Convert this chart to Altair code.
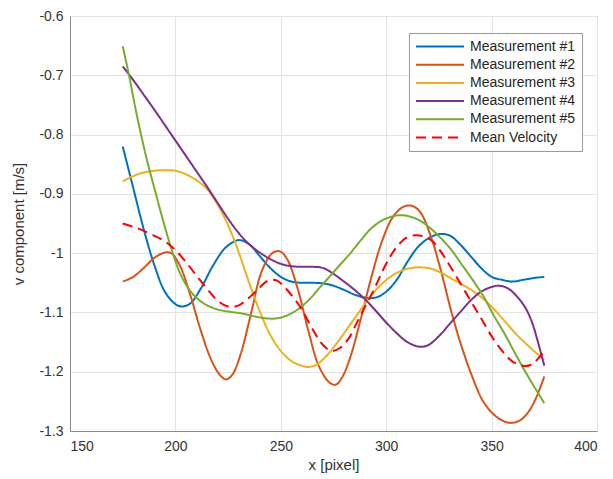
import altair as alt
import pandas as pd

series_names = ["Measurement #1", "Measurement #2", "Measurement #3",
                "Measurement #4", "Measurement #5", "Mean Velocity"]
series_colors = ["#0072BD", "#D95319", "#EDB120", "#7E2F8E", "#77AC30", "#FF0000"]

m1_x = [175, 180, 185, 190, 195, 200, 203, 207, 212, 218, 224, 230, 235, 240, 245, 250, 255, 260,
        265, 270, 275, 280, 285, 290, 295, 300, 305, 310, 315, 320, 325, 330, 335, 340, 345, 350,
        355, 360, 365, 370, 375]
m1_y = [-0.82, -0.89, -0.96, -1.02, -1.065, -1.086, -1.09, -1.085, -1.06, -1.02, -0.99, -0.978,
        -0.985, -1.005, -1.025, -1.04, -1.048, -1.05, -1.05, -1.051, -1.055, -1.062, -1.07, -1.075,
        -1.075, -1.065, -1.045, -1.015, -0.99, -0.975, -0.968, -0.97, -0.985, -1.005, -1.025, -1.04,
        -1.045, -1.048, -1.045, -1.042, -1.04]

m2_x = [175, 180, 185, 190, 195, 198, 202, 207, 212, 217, 221, 224, 227, 231, 236, 241, 246, 249.6,
        253, 258, 263, 268, 273, 276, 279, 283, 288, 293, 298, 303, 308, 312, 316, 321, 326, 331,
        336, 341, 346, 352, 358, 363, 367, 371, 375]
m2_y = [-1.048, -1.04, -1.025, -1.008, -0.999, -1.0, -1.02, -1.07, -1.13, -1.18, -1.205, -1.213,
        -1.205, -1.17, -1.10, -1.03, -1.0, -0.997, -1.01, -1.06, -1.13, -1.19, -1.218, -1.222,
        -1.21, -1.175, -1.11, -1.04, -0.98, -0.94, -0.922, -0.92, -0.93, -0.97, -1.03, -1.10,
        -1.16, -1.21, -1.25, -1.275, -1.286, -1.283, -1.27, -1.245, -1.208]

m3_x = [175, 180, 185, 190, 195, 200, 205, 210, 215, 220, 225, 230, 235, 240, 245, 250, 255, 260,
        263, 267, 272, 277, 282, 287, 292, 297, 302, 307, 312, 317, 322, 327, 332, 337, 342, 347,
        352, 357, 362, 367, 371, 375]
m3_y = [-0.879, -0.87, -0.864, -0.861, -0.86, -0.861, -0.867, -0.877, -0.892, -0.918, -0.953, -0.998,
        -1.05, -1.098, -1.138, -1.165, -1.182, -1.19, -1.192, -1.188, -1.172, -1.15, -1.125, -1.10,
        -1.075, -1.055, -1.04, -1.03, -1.025, -1.024, -1.027, -1.035, -1.045, -1.055, -1.066,
        -1.08, -1.098, -1.118, -1.138, -1.155, -1.168, -1.18]

m4_x = [175, 180, 185, 190, 195, 200, 205, 210, 215, 220, 225, 230, 235, 240, 245, 250, 255, 260,
        265, 270, 275, 280, 285, 290, 295, 300, 305, 310, 316, 320, 325, 330, 335, 340, 345, 350,
        354, 358, 362, 366, 369, 372, 375]
m4_y = [-0.685, -0.708, -0.733, -0.758, -0.784, -0.81, -0.836, -0.862, -0.888, -0.915, -0.942, -0.966,
        -0.985, -0.999, -1.01, -1.018, -1.022, -1.023, -1.023, -1.025, -1.035, -1.048, -1.062,
        -1.078, -1.097, -1.117, -1.135, -1.15, -1.158, -1.155, -1.14, -1.12, -1.10, -1.08, -1.065,
        -1.057, -1.055, -1.06, -1.073, -1.092, -1.115, -1.15, -1.19]

m5_x = [175, 178, 181, 184, 187, 190, 193, 196, 199, 202, 205, 209, 214, 220, 226, 232, 238, 243,
        248, 253, 258, 263, 268, 273, 278, 283, 288, 293, 298, 303, 307, 311, 316, 321, 326, 331,
        336, 341, 346, 351, 356, 361, 366, 371, 375]
m5_y = [-0.651, -0.70, -0.755, -0.805, -0.85, -0.89, -0.93, -0.968, -1.003, -1.032, -1.053, -1.072,
        -1.086, -1.095, -1.099, -1.102, -1.107, -1.11, -1.11, -1.105, -1.095, -1.08, -1.06, -1.04,
        -1.02, -1.0, -0.978, -0.958, -0.945, -0.938, -0.936, -0.938, -0.945, -0.958, -0.975, -0.995,
        -1.02, -1.045, -1.072, -1.105, -1.135, -1.168, -1.20, -1.23, -1.253]

mean_x = [175, 182, 189, 195, 200, 205, 210, 215, 220, 225, 230, 235, 240, 244, 248, 252, 256, 260,
          265, 270, 274, 278, 282, 286, 290, 294, 298, 302, 306, 310, 314, 318, 322, 326, 330, 335,
          340, 345, 350, 355, 360, 365, 369, 372, 375]
mean_y = [-0.95, -0.958, -0.969, -0.98, -0.995, -1.015, -1.038, -1.06, -1.08, -1.09, -1.088, -1.075,
          -1.058, -1.046, -1.046, -1.058, -1.075, -1.095, -1.128, -1.155, -1.165, -1.16, -1.145,
          -1.118, -1.09, -1.063, -1.032, -1.005, -0.985, -0.973, -0.97, -0.972, -0.98, -0.998,
          -1.02, -1.05, -1.08, -1.11, -1.14, -1.165, -1.183, -1.19, -1.188, -1.178, -1.165]

x_ticks = [150, 200, 250, 300, 350, 400]
y_ticks = [-1.3, -1.2, -1.1, -1.0, -0.9, -0.8, -0.7, -0.6]

all_x = [m1_x, m2_x, m3_x, m4_x, m5_x, mean_x]
all_y = [m1_y, m2_y, m3_y, m4_y, m5_y, mean_y]

rows = []
for i, (name, xs, ys) in enumerate(zip(series_names, all_x, all_y)):
    for j, (xv, yv) in enumerate(zip(xs, ys)):
        rows.append({"series": name, "order": i, "idx": j, "x": xv, "v": yv})
df = pd.DataFrame(rows)

FONT = "Liberation Sans"

legend_common = dict(orient="none", legendX=339, legendY=17)

chart = alt.Chart(df).mark_line(interpolate="catmull-rom", strokeWidth=2).encode(
    x=alt.X("x:Q", title="x [pixel]",
            scale=alt.Scale(domain=[150, 400], nice=False, zero=False),
            axis=alt.Axis(values=x_ticks, grid=True, ticks=False, labelPadding=8,
                          titlePadding=4)),
    y=alt.Y("v:Q", title="v component [m/s]",
            scale=alt.Scale(domain=[-1.3, -0.6], nice=False, zero=False),
            axis=alt.Axis(values=y_ticks, grid=True, ticks=False, labelPadding=7,
                          labelExpr="datum.value + ''", titlePadding=12)),
    color=alt.Color("series:N", title=None,
                    scale=alt.Scale(domain=series_names, range=series_colors),
                    legend=alt.Legend(**legend_common)),
    strokeDash=alt.StrokeDash("series:N", title=None,
                              scale=alt.Scale(domain=series_names,
                                              range=[[1, 0], [1, 0], [1, 0], [1, 0], [1, 0], [10, 6]]),
                              legend=alt.Legend(**legend_common)),
    detail="series:N",
    order=alt.Order("idx:Q"),
).properties(
    width=527,
    height=415,
    padding={"left": 62, "top": 8, "right": 8, "bottom": 47},
    autosize=alt.AutoSizeParams(type="none"),
).configure_view(
    stroke="#8c8c8c", strokeWidth=1
).configure_axis(
    domainColor="#8c8c8c",
    gridColor="#e3e3e3",
    gridOpacity=1,
    labelFont=FONT, titleFont=FONT,
    labelFontSize=14, titleFontSize=15,
    labelColor="#333333", titleColor="#333333",
    titleFontWeight="normal",
).configure_legend(
    symbolType="stroke",
    symbolSize=2304,
    symbolStrokeWidth=2,
    clipHeight=15,
    labelFont=FONT,
    labelFontSize=14,
    labelColor="#262626",
    labelOffset=5,
    padding=6,
    rowPadding=3.2,
    fillColor="white",
    strokeColor="#9a9a9a",
)

chart.save("out.html", embed_options={"renderer": "svg", "actions": False})
